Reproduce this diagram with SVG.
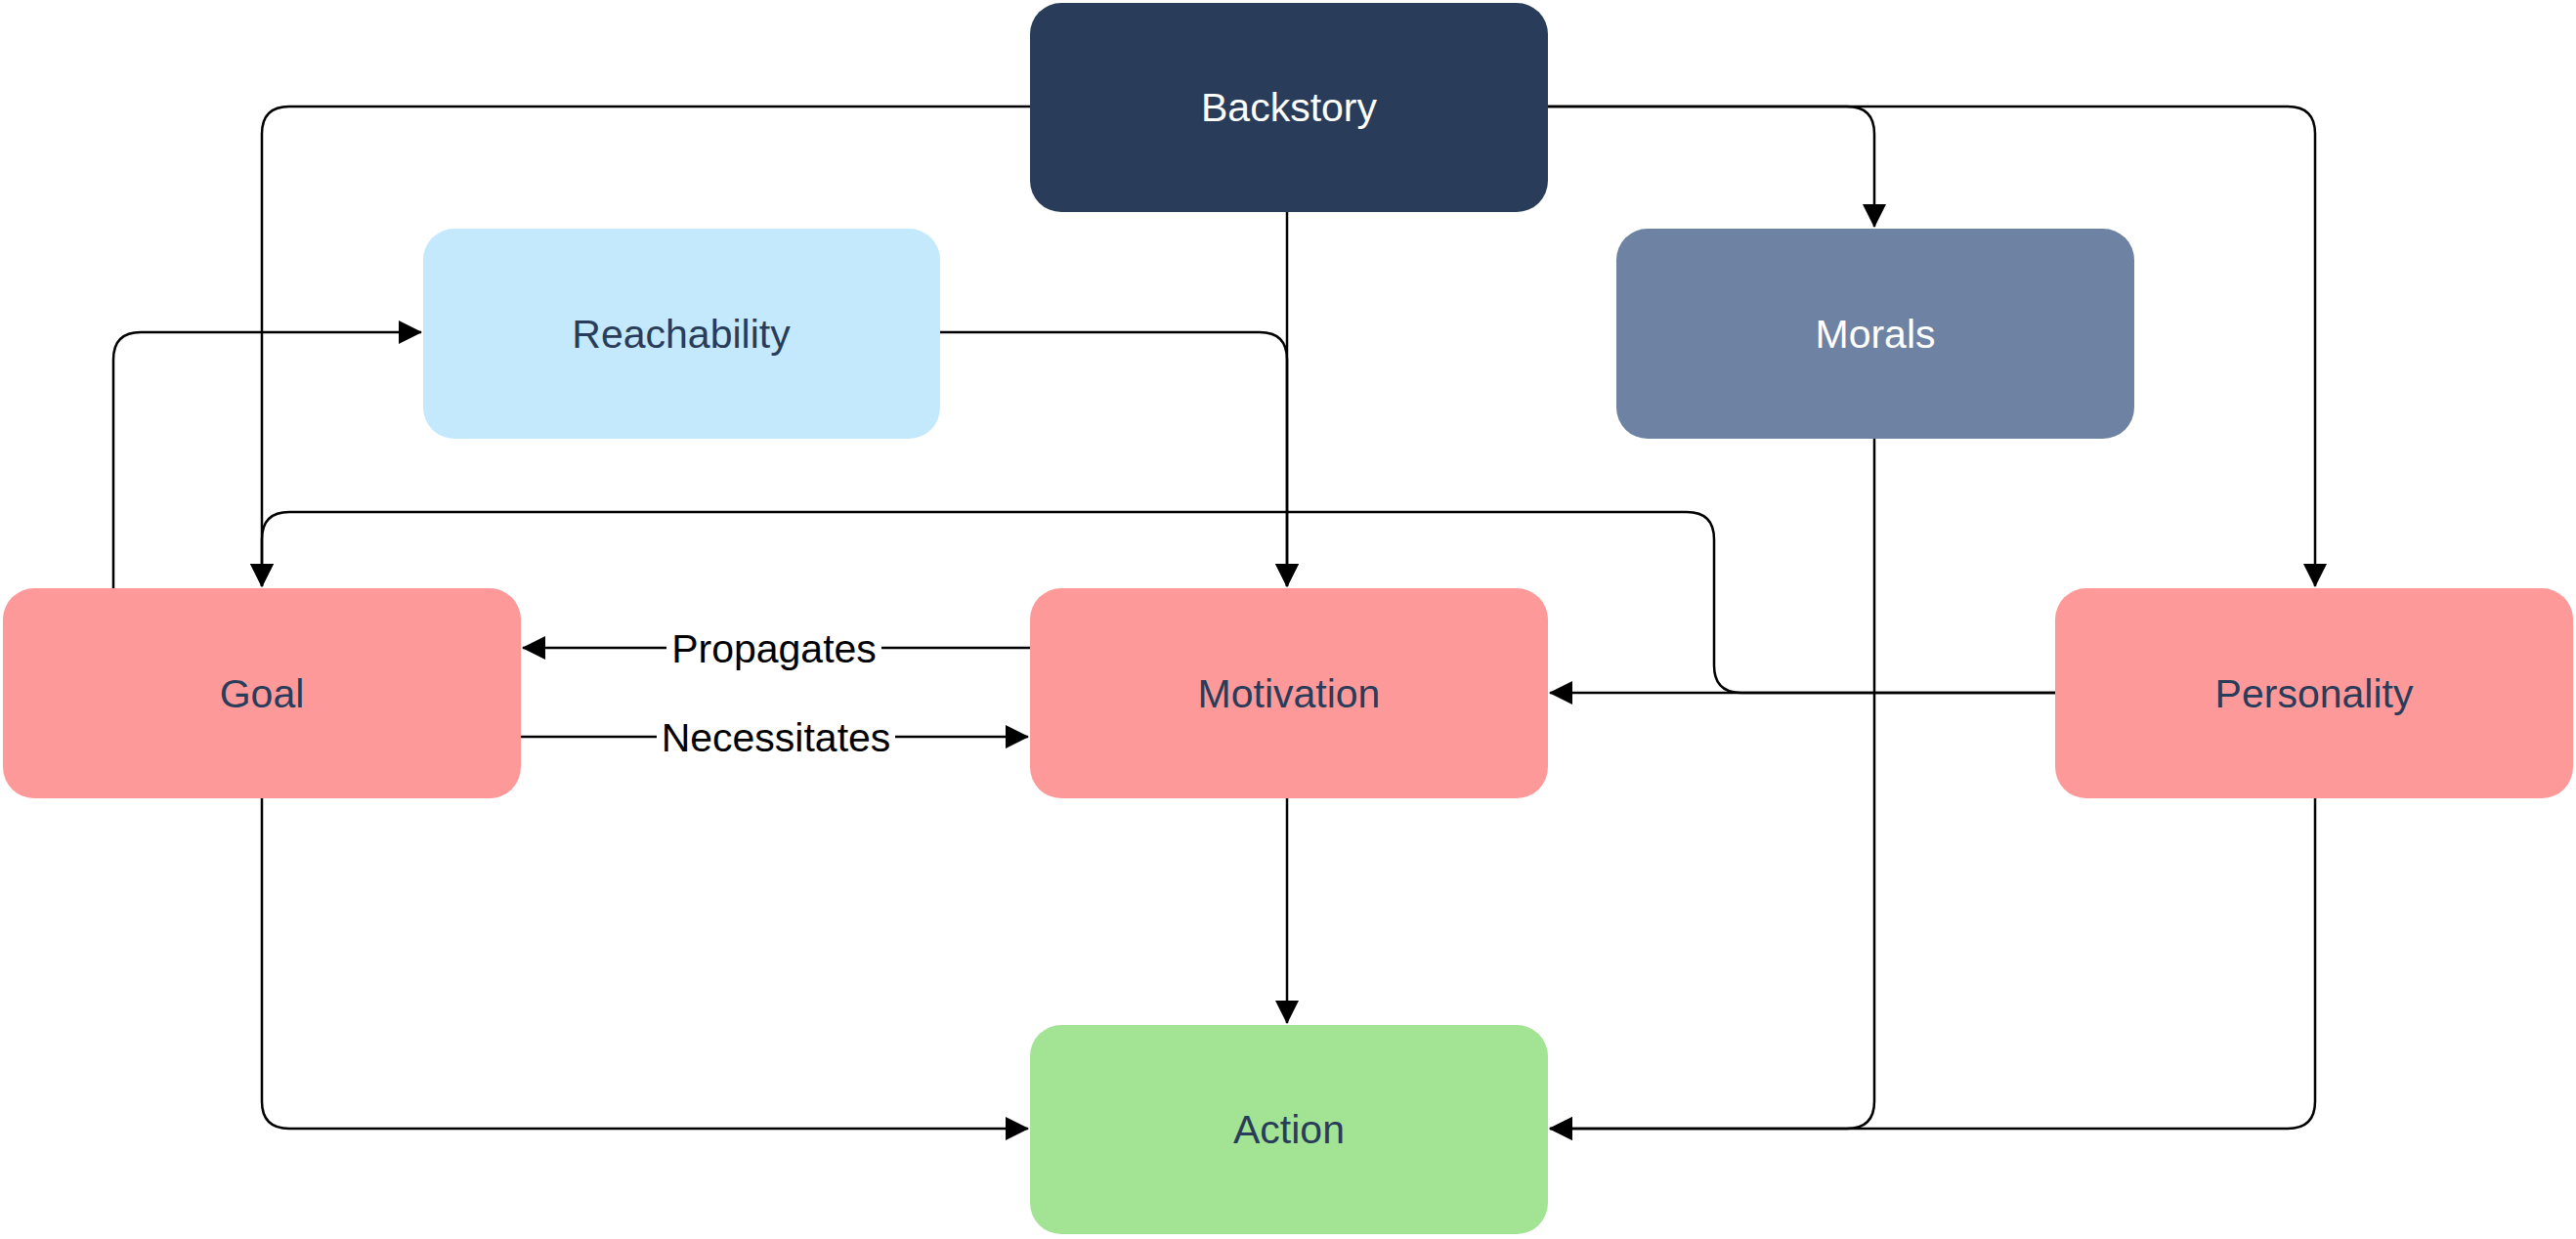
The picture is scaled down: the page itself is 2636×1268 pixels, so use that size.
<svg xmlns="http://www.w3.org/2000/svg" width="2636" height="1268" viewBox="0 0 2636 1268">
<defs>
<style>
.box{stroke:none}
.t{font-family:"Liberation Sans",Arial,sans-serif;font-size:41px;text-anchor:middle}
.dark{fill:#293d5a}
.light{fill:#ffffff}
.c{fill:none;stroke:#000;stroke-width:2.5}
.lbl{font-family:"Liberation Sans",Arial,sans-serif;font-size:41px;text-anchor:middle;fill:#000}
</style>
<marker id="ah" viewBox="0 0 24 24" markerWidth="24" markerHeight="24" refX="23" refY="12" orient="auto" markerUnits="userSpaceOnUse">
<path d="M0,0 L24,12 L0,24 Z" fill="#000"/>
</marker>
</defs>
<rect width="2636" height="1268" fill="#fff"/>
<g id="connectors">
<path class="c" d="M1054,109 H296 Q268,109 268,137 V600" marker-end="url(#ah)"/>
<path class="c" d="M1584,109 H1890 Q1918,109 1918,137 V232" marker-end="url(#ah)"/>
<path class="c" d="M1584,109 H2341 Q2369,109 2369,137 V600" marker-end="url(#ah)"/>
<path class="c" d="M1317,217 V600" marker-end="url(#ah)"/>
<path class="c" d="M962,340 H1289 Q1317,340 1317,368 V600" marker-end="url(#ah)"/>
<path class="c" d="M116,602 V368 Q116,340 144,340 H431" marker-end="url(#ah)"/>
<path class="c" d="M2103,709 H1782 Q1754,709 1754,681 V552 Q1754,524 1726,524 H296 Q268,524 268,552 V600" marker-end="url(#ah)"/>
<path class="c" d="M2103,709 H1586" marker-end="url(#ah)"/>
<path class="c" d="M1054,663 H535" marker-end="url(#ah)"/>
<path class="c" d="M533,754 H1052" marker-end="url(#ah)"/>
<path class="c" d="M268,817 V1127 Q268,1155 296,1155 H1052" marker-end="url(#ah)"/>
<path class="c" d="M1317,817 V1047" marker-end="url(#ah)"/>
<path class="c" d="M1918,449 V1127 Q1918,1155 1890,1155 H1586" marker-end="url(#ah)"/>
<path class="c" d="M2369,817 V1127 Q2369,1155 2341,1155 H1586" marker-end="url(#ah)"/>
<rect x="682" y="638" width="220" height="50" fill="#fff"/>
<text class="lbl" x="792" y="678">Propagates</text>
<rect x="672" y="729" width="244" height="50" fill="#fff"/>
<text class="lbl" x="794" y="769">Necessitates</text>
</g>
<g id="backstory">
<rect class="box" x="1054" y="3" width="530" height="214" rx="32" fill="#293d5a"/>
<text class="t light" x="1319" y="124">Backstory</text>
</g>
<g id="reachability">
<rect class="box" x="433" y="234" width="529" height="215" rx="32" fill="#c4e9fd"/>
<text class="t dark" x="697" y="356">Reachability</text>
</g>
<g id="morals">
<rect class="box" x="1654" y="234" width="530" height="215" rx="32" fill="#6e83a3"/>
<text class="t light" x="1919" y="356">Morals</text>
</g>
<g id="goal">
<rect class="box" x="3" y="602" width="530" height="215" rx="32" fill="#fe999a"/>
<text class="t dark" x="268" y="724">Goal</text>
</g>
<g id="motivation">
<rect class="box" x="1054" y="602" width="530" height="215" rx="32" fill="#fe999a"/>
<text class="t dark" x="1319" y="724">Motivation</text>
</g>
<g id="personality">
<rect class="box" x="2103" y="602" width="530" height="215" rx="32" fill="#fe999a"/>
<text class="t dark" x="2368" y="724">Personality</text>
</g>
<g id="action">
<rect class="box" x="1054" y="1049" width="530" height="214" rx="32" fill="#a2e494"/>
<text class="t dark" x="1319" y="1170">Action</text>
</g>
</svg>
